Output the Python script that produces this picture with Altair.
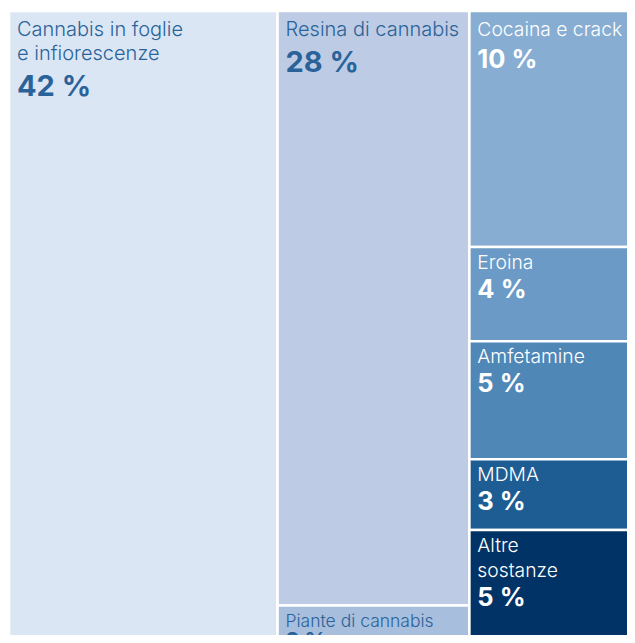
import altair as alt
import pandas as pd

# ---- data ----
categories = [
    "Cannabis in foglie\ne infiorescenze",
    "Resina di cannabis",
    "Piante di cannabis",
    "Cocaina e crack",
    "Eroina",
    "Amfetamine",
    "MDMA",
    "Altre\nsostanze",
]
values = [42, 28, 2, 10, 4, 5, 3, 5]          # percent
groups = [0, 1, 1, 2, 2, 2, 2, 2]              # treemap column (cannabis herbs / resin+plants / others)

fills = ["#dbe6f4", "#bdcce4", "#a8bedd", "#87add3", "#6b9ac6", "#4f87b7", "#1d5d94", "#023366"]
text_colors = ["#2a639a", "#2a639a", "#2a639a", "#ffffff", "#ffffff", "#ffffff", "#ffffff", "#ffffff"]

# full treemap size in pixels (it runs past the bottom-right edge of the picture)
X_PX, Y_PX = 633, 637
# visible plot area
PW, PH = 618, 624

FONT = "Inter"

# ---- slice-and-dice layout from the values ----
col_tot = {}
for g, v in zip(groups, values):
    col_tot[g] = col_tot.get(g, 0) + v
col_start = {}
acc = 0
for g in sorted(col_tot):
    col_start[g] = acc
    acc += col_tot[g]
total = acc

rects = []
y_acc = {g: 0.0 for g in col_tot}
for i, (c, v, g) in enumerate(zip(categories, values, groups)):
    y0 = y_acc[g] / col_tot[g]
    y_acc[g] += v
    y1 = y_acc[g] / col_tot[g]
    rects.append(dict(cat=c, val=v, x0=col_start[g], x1=col_start[g] + col_tot[g],
                      y0=y0, y1=y1, fill=fills[i], first=(y0 == 0), idx=i))
rdf = pd.DataFrame(rects)

# ---- text rows ----
lab_rows, pct_rows = [], []
for r in rects:
    i = r["idx"]
    g = groups[i]
    if g < 2:
        lab_fs, pct_fs, lh, gap = 20, 29, 24.5, 36
    else:
        lab_fs, pct_fs, lh, gap = 19.3, 25.5, 24.5, 29
    first_off = 22
    if r["first"]:
        first_off += 2.5
        if g == 2:
            gap += 3
    if r["val"] < 3:
        lab_fs, pct_fs, first_off, gap = 17.5, 22, 21, 21
    lines = r["cat"].split("\n")
    off = first_off
    for k, line in enumerate(lines):
        lab_rows.append(dict(t=line, x=r["x0"], y=r["y0"] + off / Y_PX, fs=lab_fs, col=text_colors[i]))
        if k < len(lines) - 1:
            off += lh
    pct_rows.append(dict(t=f"{r['val']} %", x=r["x0"], y=r["y0"] + (off + gap) / Y_PX,
                         fs=pct_fs, col=text_colors[i]))

ldf = pd.DataFrame(lab_rows)
pdf = pd.DataFrame(pct_rows)

xs = alt.Scale(domain=[0, total * PW / X_PX], range=[0, PW], nice=False, zero=False)
ys = alt.Scale(domain=[0, PH / Y_PX], reverse=True, nice=False, zero=False)

cells = alt.Chart(rdf).mark_rect(stroke="white", strokeWidth=2.6, clip=True).encode(
    x=alt.X("x0:Q", scale=xs, axis=None),
    x2="x1:Q",
    y=alt.Y("y0:Q", scale=ys, axis=None),
    y2="y1:Q",
    color=alt.Color("fill:N", scale=None),
)

labels = alt.Chart(ldf).mark_text(align="left", baseline="alphabetic", dx=8, clip=True,
                                   font=FONT, fontWeight=300).encode(
    x=alt.X("x:Q", scale=xs, axis=None),
    y=alt.Y("y:Q", scale=ys, axis=None),
    text="t:N",
    size=alt.Size("fs:Q", scale=None),
    color=alt.Color("col:N", scale=None),
)

pcts = alt.Chart(pdf).mark_text(align="left", baseline="alphabetic", dx=8, clip=True,
                                 font=FONT, fontWeight="bold").encode(
    x=alt.X("x:Q", scale=xs, axis=None),
    y=alt.Y("y:Q", scale=ys, axis=None),
    text="t:N",
    size=alt.Size("fs:Q", scale=None),
    color=alt.Color("col:N", scale=None),
)

chart = alt.layer(cells, labels, pcts).properties(
    width=PW, height=PH,
    padding={"left": 1, "top": 3, "right": 0, "bottom": 0},
    autosize=alt.AutoSizeParams(type="none"),
).configure_view(stroke=None)

chart.save("out.html", embed_options={"renderer": "svg", "actions": False})
